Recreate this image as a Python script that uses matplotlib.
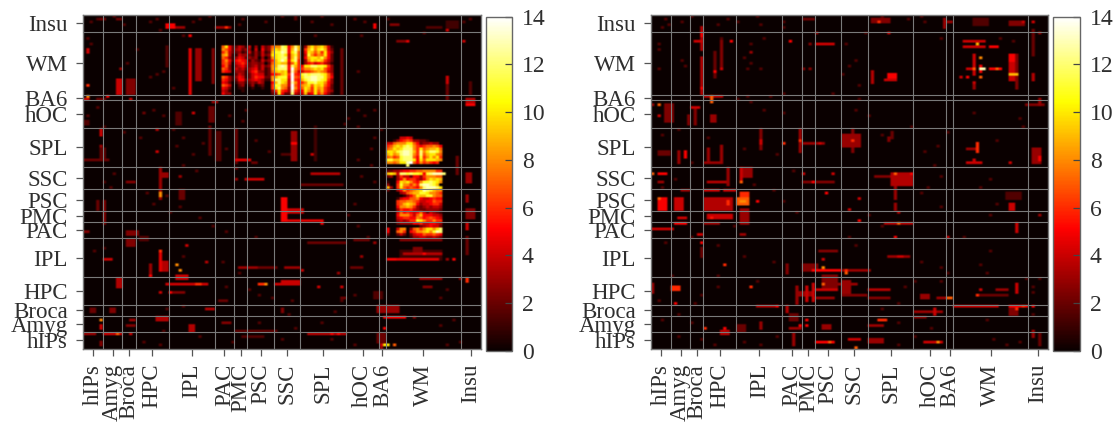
import numpy as np
import matplotlib
matplotlib.use("Agg")
import matplotlib.pyplot as plt

plt.rcParams['font.family'] = ['Liberation Serif', 'DejaVu Serif']

regions = ['hIPs', 'Amyg', 'Broca', 'HPC', 'IPL', 'PAC', 'PMC', 'PSC', 'SSC', 'SPL', 'hOC', 'BA6', 'WM', 'Insu']
sizes = [6, 6, 4, 10, 14, 6, 4, 8, 8, 14, 10, 2, 23, 6]
cbar_ticks = [0, 2, 4, 6, 8, 10, 12, 14]

# Dense patches, read per cell: rows from the top row down, one hex digit per cell
left_wm_first_col = 42
left_wm_top_row = 109
left_wm = [
    "7a52243140304237 88cb58c9038a89a84100".replace(" ", ""),
    "875234233040523" "8a9cc59d9" "069b8ab94200",
    "684223124131412" "9bbdc5ac7" "05a9796a5300",
    "894114332131423" "aabca49b7" "04b8687a5200",
    "763135423230302" "8abcc49c7" "059aa9b85200",
    "685156541321423" "69bdb5ac6" "038a9a964200",
    "674045642332302" "79a9947a6" "035645643100",
    "573034532342423" "89cdc5c96" "5aaccbba6300",
    "763043423452412" "8accc5e86" "6889a9a75300",
    "654033313563312" "79a9a4d74" "466789874300",
    "000024312454412" "5679a6e65" "bcbcccba7400",
    "763135412465522" "89bbb5e76" "accddcca7500",
    "653125523454311" "8ccaa4e65" "9bcddcba6300",
    "542013312324300" "59ca94d85" "68bbcaa85300",
    "764002301301200" "6bb884e75" "89a7a9a75200",
    "542001100100100" "6ac873e85" "7a96a8964200",
    "431000100000000" "36a653d64" "5a86a7964300",
    "533000000000000" "23a522c43" "4945a6853100",
]
left_spl_first_col = 92
left_spl_top_row = 76
left_spl = [
    "000044540000000000", "001356763322100000", "447888aa7523343300",
    "679a9bcb8656778750", "78a9accc86a7899a70", "aa9bcddc96c8accb80",
    "9a89cddc86c79aa870", "7867bccc75b68a8a60", "bb99bccca5a7aaa980",
    "8878aade7586765600", "000000c00000000000", "000000000000000000",
    "223345566778888660", "9a94ccbcbba5bcdddc", "230364425536888770",
    "0003585664358a9a90", "1005a9a8658bbcba80", "3006b88686cddcb900",
    "9306a767658cdddca0", "2003586789adcb9880", "0000347899bba88760",
    "000001357a99bb8770", "000145577854456550", "000677887644557660",
    "000679a98534456640", "000588986323434430", "000365564322333320",
    "000475654574243210", "000588864795554430", "000456655875676540",
    "000343466ba8668660", "000233335564455430", "000000000023454420",
    "500488037868aa8ac0", "500786056889a8bdc0", "200242024557667650",
    "000000013344334320",
]

# Sparse cells: (row_from, row_to, col_from, col_to, value)
left_cells = [
    (116,117,25,27,5),(116,116,28,30,3),(116,116,40,42,3),(116,116,43,43,6),(116,116,44,44,3),
    (113,113,32,32,5),(92,108,32,32,4.5),(97,108,34,35,3),(96,108,39,39,2.5),(102,109,25,25,1.5),
    (107,108,1,1,4),(95,95,1,1,6),(91,91,1,1,8),(90,90,0,1,4),(92,97,10,11,4),(92,97,13,15,2.5),
    (90,90,14,14,4),(91,91,7,7,5),(101,101,11,11,3),(90,90,4,6,2),(119,119,5,6,2),(119,119,10,11,2),
    (82,87,38,39,2),(81,85,28,29,1.5),(85,85,33,33,4),(85,85,18,18,2),(89,89,39,40,3),(81,82,0,1,1.5),
    (77,79,5,5,4),(73,73,5,5,3),(68,68,0,7,2),(69,72,5,6,1.8),(79,79,22,22,3.5),(71,71,22,22,4),
    (70,80,38,38,1.8),(68,78,40,41,1.5),(67,79,46,46,2),(68,68,46,50,4.5),(67,67,51,52,2),
    (68,78,63,64,3),(74,74,63,64,5),(70,70,60,63,1.5),(65,65,46,46,2),(61,61,46,46,3),(61,61,49,54,4),
    (54,65,23,23,3),(55,56,23,23,8),(62,63,24,25,3),(62,62,29,29,3),(60,60,13,15,2.5),(54,57,29,30,2),
    (46,54,60,61,5),(49,50,62,66,4),(46,46,60,72,4.5),(45,53,6,6,2.5),(50,53,4,4,2),(45,45,72,72,5),
    (28,35,23,23,4.5),(35,35,23,23,6),(28,31,24,25,3.5),(30,30,28,28,8),(28,28,29,29,8),(37,37,31,31,4),
    (31,31,37,37,3.5),(27,30,20,20,3),(26,26,20,20,5),(25,26,28,31,4),(23,23,25,37,4),(23,23,34,35,6),
    (23,23,53,54,6),(23,23,55,55,8),(23,23,58,65,4),(20,20,23,23,4),(20,20,26,26,5),(20,20,27,30,2.5),
    (22,25,10,11,3.5),(32,32,6,8,4),(37,39,13,15,2.5),(10,10,5,5,8),(8,8,5,5,4),(7,7,5,5,4),(1,2,5,5,2.5),
    (5,5,0,3,3),(5,5,6,11,4),(5,5,10,10,7),(10,10,14,15,3),(8,8,13,15,2.5),(5,5,14,14,4),(10,11,22,25,3.5),
    (6,8,32,33,3.5),(14,14,37,39,3.5),(17,17,41,43,2),(9,9,42,44,2.5),(6,6,46,58,1.8),(4,4,48,54,1.5),
    (13,14,60,60,2.5),(29,29,47,52,3),(29,29,53,58,2),(29,29,61,65,3),(13,14,8,9,2.5),(13,14,2,3,2),
    (41,42,13,16,2.5),(42,42,0,1,2.5),(39,40,17,19,1.5),
    (24,24,60,65,4),(28,28,66,66,4),(5,5,68,79,3.5),(5,5,75,75,5),(5,5,77,77,5),(22,22,71,71,4),(22,22,78,78,4),
    (27,27,77,77,3),(29,29,81,84,2),(33,33,84,84,3),(18,18,78,79,2),(22,22,103,105,2.5),(25,25,102,108,3),
    (25,25,114,114,3),(38,38,68,79,2),(38,38,88,88,3),(39,39,82,86,2),(11,11,100,100,2.5),(32,35,96,108,1.2),
    (39,39,96,108,2.5),(34,34,97,108,3.5),(34,34,103,103,5),(35,36,100,102,2.5),(32,32,92,94,5),(32,32,95,107,4.5),
    (32,32,112,112,5),(32,32,110,110,3),(116,117,88,88,5),(117,117,93,95,2.5),(111,111,98,98,4.5),(111,111,95,97,2.5),
    (115,115,110,110,4),(111,111,115,115,4),(96,98,110,110,4),(90,95,110,110,2),(92,108,78,78,2),(92,96,117,117,1.5),
    (88,90,116,118,3.5),(88,88,116,118,5),(70,70,69,69,4),(68,80,70,70,1.2),(63,63,69,77,3.5),(59,59,66,78,2),
    (24,25,116,116,6),(34,40,116,116,2),(43,45,116,116,4),(53,55,116,116,3),(13,15,89,95,3),(11,11,91,97,5),
    (7,7,91,91,5),(1,1,91,92,10),(1,1,94,94,7),(1,1,90,90,4),(0,0,90,90,3),(2,5,89,91,2),(18,20,88,90,1.5),
    (63,69,113,113,2),(60,63,116,117,3),(47,50,116,118,2.5),(116,118,110,113,1.2),(116,116,104,108,1.5),
]
left_faint = [
    (118,2),(119,4),(120,9),(117,12),(118,20),(119,22),(115,23),(118,33),(119,35),(120,38),(117,47),(119,48),
    (118,55),(120,60),(119,64),(118,69),(120,72),(117,75),(119,82),(118,85),(119,92),(114,103),(119,117),(118,115),
    (112,1),(110,2),(113,30),(108,16),(103,13),(100,24),(99,22),(94,27),(98,20),(87,4),(84,1),(86,21),(84,24),
    (84,44),(82,48),(86,49),(80,6),(78,12),(76,17),(79,27),(76,30),(74,36),(73,28),(70,33),(72,43),(75,52),(71,56),
    (66,30),(64,34),(63,9),(60,6),(58,8),(56,19),(55,25),(52,21),(51,29),(49,26),(47,35),(44,39),(42,43),(40,52),
    (36,6),(35,3),(33,30),(31,42),(27,47),(22,43),(21,50),(19,53),(18,57),(17,63),(15,30),(14,25),(12,62),(9,53),
    (7,64),(3,60),(2,45),(4,35),(1,23),(2,18),(6,24),(120,64),(113,70),(108,75),(100,72),(80,83),(79,90),(84,85),
    (86,83),(83,80),(81,79),(86,88),(76,88),(68,83),(72,87),(66,87),(62,84),(60,88),(52,82),(48,80),(44,83),(40,86),
    (19,82),(17,78),(13,76),(9,72),(3,75),(1,82),(21,110),(18,108),(10,112),(8,108),(1,110),(2,114),(113,84),(100,83),
]

right_cells = [
    (108,116,15,15,3.5),(113,114,15,15,5),(92,105,15,15,3.5),(94,94,15,15,5),(111,111,13,15,4),(89,91,18,18,7),
    (91,91,16,21,3.5),(98,107,19,19,2),(100,100,19,19,5),(101,111,21,21,2.5),(101,101,21,21,4),(111,111,24,24,5),
    (111,111,42,42,5),(107,107,30,30,3),(88,88,2,2,7),(84,84,2,2,4),(88,88,0,0,3),(82,88,4,6,2.5),(87,87,12,14,4),
    (81,86,13,13,2.5),(81,84,11,11,2.5),(82,84,18,19,3),(72,79,33,33,2.5),(74,75,33,33,4),(74,74,40,40,6),
    (71,79,45,45,3),(75,75,45,45,6),(74,74,46,52,3),(74,74,51,51,4),(69,71,10,10,5),(67,71,8,8,3),(70,71,2,5,2),
    (68,72,17,17,3),(67,73,21,21,3),(67,67,16,20,3),(63,63,0,0,7),(63,63,2,4,5),(60,60,2,3,3),(59,65,23,23,3),
    (60,65,27,27,4),(60,60,27,27,7),(62,65,28,30,3),(60,60,17,22,3.5),(57,57,9,11,3),(57,57,16,20,4),(57,57,22,25,4),
    (54,56,27,29,6),(54,54,2,2,7),(50,54,2,4,5),(50,54,7,9,4),(50,54,16,24,3.5),(52,53,23,23,6),(52,54,26,29,7),
    (53,53,27,28,8),(53,53,32,32,5),(45,50,27,29,3),(47,48,17,24,4),(47,47,18,18,5.5),(45,45,16,20,3),(45,45,7,10,5),
    (47,47,8,10,4),(43,43,0,6,4),(41,41,14,15,4),(41,41,27,28,3),(38,38,15,15,5),(33,36,15,15,2),(30,30,22,22,6),
    (21,22,6,8,6),(16,16,7,7,5),(20,23,0,0,3),(22,22,30,30,6),(15,15,32,38,3.5),(15,15,38,38,5),(13,15,41,41,3.5),
    (7,7,16,16,6),(7,7,22,22,5),(5,6,21,23,3.5),(6,8,26,28,2),(7,9,33,33,3),(29,29,52,52,8),(28,28,49,57,5),
    (32,32,52,52,4),(35,35,51,56,2.5),(23,23,52,52,7),(21,21,49,56,4),(17,22,47,47,4),(16,22,44,44,3),(27,30,41,41,2.5),
    (17,23,49,49,4),(28,28,59,59,6),(18,18,49,55,3),(22,26,52,56,2.5),(20,24,58,60,3),(28,30,46,50,2.5),(19,20,45,48,3),
    (8,8,45,45,5),(7,7,42,45,3),(10,10,47,47,5),(8,8,47,47,5),(1,5,43,43,3),(2,2,50,55,5),(2,2,54,54,7),(7,8,52,54,3),
    (10,12,42,44,2),(28,28,57,66,3),(27,27,59,59,7),(23,23,57,62,3),(19,19,58,65,2.5),(21,21,66,72,3.5),(18,18,66,72,2.5),
    (10,10,69,71,6),(8,8,66,70,3),(3,3,60,63,4),(0,0,62,62,7),(2,3,66,70,3),(2,2,83,88,4),(2,2,87,87,8),(13,13,80,88,3),
    (12,14,86,86,4),(11,11,80,83,2.5),(18,18,90,91,7),(18,18,87,89,3),(18,19,82,84,3),(15,15,92,105,4),(15,15,109,114,5),
    (15,15,113,113,6),(14,14,111,111,6),(15,15,116,116,5),(12,14,109,111,2.5),(20,23,111,111,4),(19,19,99,108,2),
    (19,19,99,99,6),(21,21,100,100,4),(21,21,105,108,3),(50,52,74,74,3),(45,45,75,75,7),(45,45,71,79,3.5),(49,49,75,75,3.5),
    (40,40,74,74,5),(33,33,72,78,3),(33,33,75,76,4),(40,40,90,90,4),(50,50,60,60,4),(46,46,63,63,5),(42,45,111,111,4),
    (50,52,109,110,4),(48,48,118,118,3),
    (118,119,67,72,2.5),(118,118,69,69,6),(114,114,72,72,4),(116,119,89,89,3),(118,118,90,91,3),(110,110,99,99,9),
    (109,109,95,101,4),(111,111,95,101,4),(109,109,103,105,5),(105,105,100,100,8),(99,106,98,98,4),(101,101,100,101,13),
    (100,102,100,100,5),(101,101,98,98,7),(101,101,96,97,4),(98,98,100,100,7),(98,98,96,96,5),(98,98,94,94,4),
    (101,101,103,106,5),(101,101,105,105,7),(96,96,98,98,4),(94,95,98,98,3),(97,106,109,110,4),(99,99,109,111,9),
    (104,106,109,110,5),(94,106,111,111,2.5),(98,99,72,74,5),(97,97,71,74,4),(96,100,67,67,3.5),(88,90,118,118,3),
    (88,88,114,119,2.5),(67,72,116,118,3),(68,69,118,118,5),(75,75,61,61,6),(73,77,58,63,3),(71,79,61,61,2.5),(75,76,72,72,2.5),
    (71,74,99,99,6),(72,72,96,99,3),(67,67,96,100,4),(68,68,98,98,4),(67,67,109,109,4),(63,63,74,74,7),(59,63,73,79,3.5),
    (63,63,79,79,5),(62,62,68,74,2.5),(54,62,74,74,3),(118,118,116,116,4),(106,115,116,116,2),(97,99,116,116,3.5),(114,114,118,118,3),
    (117,118,109,113,2.5),(118,118,113,113,4),(117,119,98,102,1.5),(54,54,63,63,4),(60,60,46,55,2.5),(60,60,49,49,5),
    (56,56,53,53,5),(63,63,46,46,4),(63,63,55,55,4),(119,119,46,49,2),(110,110,50,55,4),(114,114,50,50,3),(110,110,48,48,2.5),
    (101,101,46,46,2.5),(101,101,48,48,2.5),(76,78,73,73,2),(4,6,116,116,3),(1,5,118,118,2),(54,56,108,112,1.5),
]
right_faint = [
    (119,4),(116,3),(117,5),(118,9),(120,12),(117,20),(119,23),(118,26),(117,33),(120,32),(116,40),(118,40),
    (110,2),(108,2),(104,9),(102,10),(101,2),(112,21),(112,34),(110,30),(105,28),(103,30),(101,29),(101,33),
    (91,36),(90,26),(91,29),(92,40),(89,30),(86,34),(85,40),(79,8),(77,3),(76,17),(72,28),(70,38),(67,12),(64,43),
    (61,7),(58,3),(59,31),(57,37),(53,40),(49,44),(44,25),(40,12),(38,4),(37,20),(33,28),(31,37),(26,6),(26,20),
    (24,32),(22,20),(19,15),(17,2),(16,13),(12,8),(10,3),(9,12),(4,8),(3,15),(1,19),(2,28),(1,33),(4,38),
    (120,70),(120,82),(114,65),(110,59),(104,62),(102,60),(99,58),(95,63),(92,55),(90,63),(86,62),(84,66),(80,79),
    (77,70),(71,83),(73,87),(78,90),(66,86),(62,88),(58,84),(56,82),(51,88),(48,66),(44,70),(40,60),(37,62),(31,82),
    (29,88),(27,90),(24,80),(24,88),(22,77),(16,75),(14,70),(9,75),(7,85),(4,80),(1,75),(119,78),(118,83),(112,88),
    (112,106),(111,110),(85,98),(83,112),(80,113),(75,105),(61,103),(58,100),(52,105),(48,103),(40,95),(35,103),(30,100),
    (27,102),(25,114),(10,102),(3,104),(2,112),(1,108),(22,116),(25,118),(20,116),(12,116),
]


def build(cells, faint, patches):
    grid = np.zeros((121, 121))
    for r0, r1, c0, c1, v in cells:
        grid[r0:r1 + 1, c0:c1 + 1] = np.maximum(grid[r0:r1 + 1, c0:c1 + 1], v)
    for r, c in faint:
        grid[r, c] = max(grid[r, c], 1.5)
    for rows, top, first in patches:
        for i, row in enumerate(rows):
            for j, ch in enumerate(row):
                grid[top - i, first + j] = max(grid[top - i, first + j], int(ch, 16))
    return grid


left_grid = build(left_cells, left_faint,
                  [(left_wm, left_wm_top_row, left_wm_first_col),
                   (left_spl, left_spl_top_row, left_spl_first_col)])
right_grid = build(right_cells, right_faint, [])

W, H = 1114, 423
fig = plt.figure(figsize=(W / 100, H / 100), dpi=100)


def box(x0, x1, y0, y1):
    return [x0 / W, 1 - y1 / H, (x1 - x0) / W, (y1 - y0) / H]


edges = np.cumsum(sizes)
centers = edges - np.array(sizes) / 2
TEXT = '#2f2f2f'
GRID = '#7a7a7a'

for grid, ax_x, cb_x in [(left_grid, (83, 481), (486, 512)), (right_grid, (651, 1048), (1053, 1080))]:
    ax = fig.add_axes(box(ax_x[0], ax_x[1], 15, 348.7))
    im = ax.imshow(grid, cmap='hot', vmin=0, vmax=14, origin='lower', aspect='auto',
                   extent=(0, 121, 0, 121))
    for e in edges[:-1]:
        ax.axvline(e, color=GRID, lw=0.8)
        ax.axhline(e, color=GRID, lw=0.8)
    ax.set_xticks(centers)
    ax.set_xticklabels(regions, rotation=90, fontsize=16.5, color=TEXT)
    ax.set_yticks(centers)
    ax.set_yticklabels(regions, fontsize=16.5, color=TEXT)
    ax.tick_params(length=5, width=0.9, color='#555555', pad=6)
    for s in ax.spines.values():
        s.set_color('#777777')
        s.set_linewidth(1.0)
    cax = fig.add_axes(box(cb_x[0], cb_x[1], 16.7, 350.7))
    cb = fig.colorbar(im, cax=cax)
    cb.set_ticks(cbar_ticks)
    cb.ax.tick_params(direction='in', length=5, width=0.9, color='#444444', labelsize=17,
                      labelcolor=TEXT, pad=7)
    cb.outline.set_edgecolor('#666666')
    cb.outline.set_linewidth(1.0)

fig.savefig('out.png', dpi=100)
